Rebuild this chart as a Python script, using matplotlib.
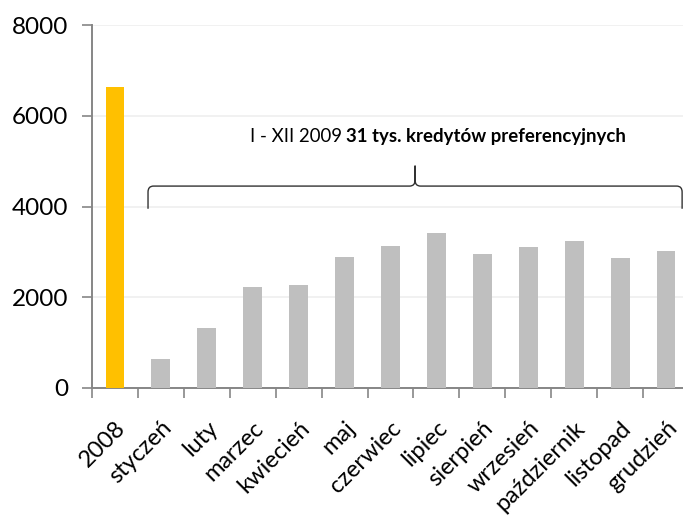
import matplotlib

matplotlib.use("Agg")
import matplotlib.pyplot as plt
from matplotlib.path import Path
from matplotlib.patches import PathPatch
import numpy as np

# data
categories = ["2008", "styczeń", "luty", "marzec", "kwiecień", "maj", "czerwiec",
              "lipiec", "sierpień", "wrzesień", "październik", "listopad", "grudzień"]
values = [6630, 650, 1320, 2220, 2260, 2890, 3140, 3420, 2960, 3100, 3240, 2860, 3010]
bar_colors = ["#FFC000"] + ["#BFBFBF"] * 12
yticks = [0, 2000, 4000, 6000, 8000]
note_plain = "I - XII 2009 "
note_bold = "31 tys. kredytów preferencyjnych"

plt.rcParams["font.family"] = ["Lato", "DejaVu Sans"]

fig = plt.figure(figsize=(6.83, 5.18), dpi=100)
ax = fig.add_axes([92 / 683, 130 / 518, 597 / 683, 363 / 518])

x = np.arange(len(categories))
ax.bar(x, values, width=0.41, color=bar_colors, zorder=3)

ax.set_xlim(-0.5, len(categories) - 0.5)
ax.set_ylim(0, 8000)
ax.set_yticks(yticks)
ax.set_yticklabels([str(v) for v in yticks], fontsize=17.5)
ax.yaxis.grid(True, color="#EFEFEF", lw=1.2, zorder=0)

ax.set_xticks(np.arange(-0.5, len(categories), 1.0))
ax.set_xticklabels([])
ax.set_xticks(x, minor=True)
ax.set_xticklabels(categories, minor=True, rotation=45, ha="right",
                   rotation_mode="anchor", fontsize=17)
ax.tick_params(axis="x", which="minor", length=0, pad=21)
ax.tick_params(axis="x", which="major", length=7, color="#868686", width=1.2)
ax.tick_params(axis="y", length=7, color="#868686", width=1.2, pad=10)

for s in ["top", "right"]:
    ax.spines[s].set_visible(False)
for s in ["left", "bottom"]:
    ax.spines[s].set_color("#868686")
    ax.spines[s].set_linewidth(1.4)

# curly bracket over the 2009 months
x0, x1 = 0.72, 12.35
xm = (x0 + x1) / 2
yb, yh, yc = 3950, 4450, 4900
rx, ry = 0.12, 130
verts = [(x0, yb), (x0, yh - ry), (x0, yh), (x0 + rx, yh),
         (xm - rx, yh), (xm, yh), (xm, yh + ry), (xm, yc),
         (xm, yh + ry), (xm, yh), (xm + rx, yh),
         (x1 - rx, yh), (x1, yh), (x1, yh - ry), (x1, yb)]
codes = [Path.MOVETO, Path.LINETO, Path.CURVE3, Path.CURVE3,
         Path.LINETO, Path.CURVE3, Path.CURVE3, Path.LINETO,
         Path.LINETO, Path.CURVE3, Path.CURVE3,
         Path.LINETO, Path.CURVE3, Path.CURVE3, Path.LINETO]
ax.add_patch(PathPatch(Path(verts, codes), fill=False, lw=1.0, ec="#333333",
                       zorder=4, clip_on=False))

t1 = ax.text(2.93, 5550, note_plain, fontsize=13.4, va="center", ha="left")
fig.canvas.draw()
bb = t1.get_window_extent().transformed(ax.transData.inverted())
ax.text(bb.x1, 5550, note_bold, fontsize=13.4, fontweight="bold",
        va="center", ha="left")

fig.savefig("out.png", dpi=100)
